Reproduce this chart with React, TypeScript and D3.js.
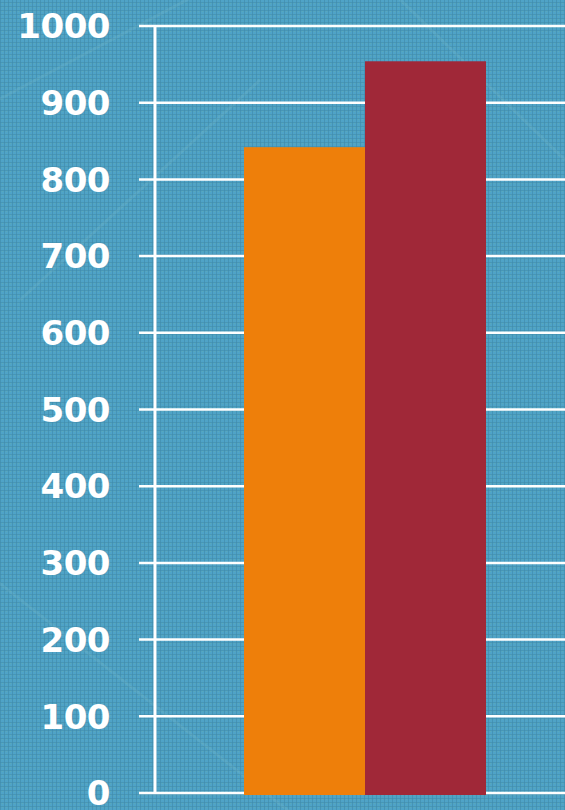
import React from "react";
import * as d3 from "d3";

const series = ["Series A", "Series B"];
const values = [842, 954];
const colors = ["#ee7f0a", "#a02838"];
const yTicks = [0, 100, 200, 300, 400, 500, 600, 700, 800, 900, 1000];

export default function App() {
  const W = 565, H = 810;
  const y = d3.scaleLinear().domain([0, 1000]).range([793, 26]);
  const x = d3.scaleBand<string>().domain(series).range([244, 486]).padding(0);
  return (
    <svg width={W} height={H} style={{ position: "absolute", left: 0, top: 0, display: "block" }}>
      <defs>
        <pattern id="tex" width="4" height="4" patternUnits="userSpaceOnUse">
          <rect width="4" height="4" fill="#4fa3c7" />
          <rect x="0" y="0" width="1" height="4" fill="#3f8aa8" opacity="0.6" />
          <rect x="0" y="2" width="4" height="1" fill="#3f8aa8" opacity="0.5" />
          <rect x="2" y="3" width="1" height="1" fill="#6ab0a8" opacity="0.5" />
        </pattern>
      </defs>
      <rect width={W} height={H} fill="url(#tex)" />
      {[ [-40, 120, 300, -60], [380, -20, 565, 160], [-30, 560, 300, 820], [20, 300, 260, 80] ].map((l, i) => (
        <line key={i} x1={l[0]} y1={l[1]} x2={l[2]} y2={l[3]} stroke="#8cc8d0" strokeOpacity={0.15} strokeWidth={3} />
      ))}
      {yTicks.map((t) => (
        <g key={t}>
          <line x1={139} x2={W} y1={y(t)} y2={y(t)} stroke="#fff" strokeWidth={2.5} />
          <text
            x={110}
            y={y(t)}
            dy="0.36em"
            textAnchor="end"
            fill="#fff"
            fontFamily="'DejaVu Sans', sans-serif"
            fontWeight="bold"
            fontSize={34}
            letterSpacing={-0.5}
          >
            {t}
          </text>
        </g>
      ))}
      <line x1={155} x2={155} y1={25} y2={794} stroke="#fff" strokeWidth={3} />
      {series.map((s, i) => (
        <rect key={s} x={x(s)} y={y(values[i])} width={x.bandwidth()} height={795 - y(values[i])} fill={colors[i]} />
      ))}
    </svg>
  );
}
